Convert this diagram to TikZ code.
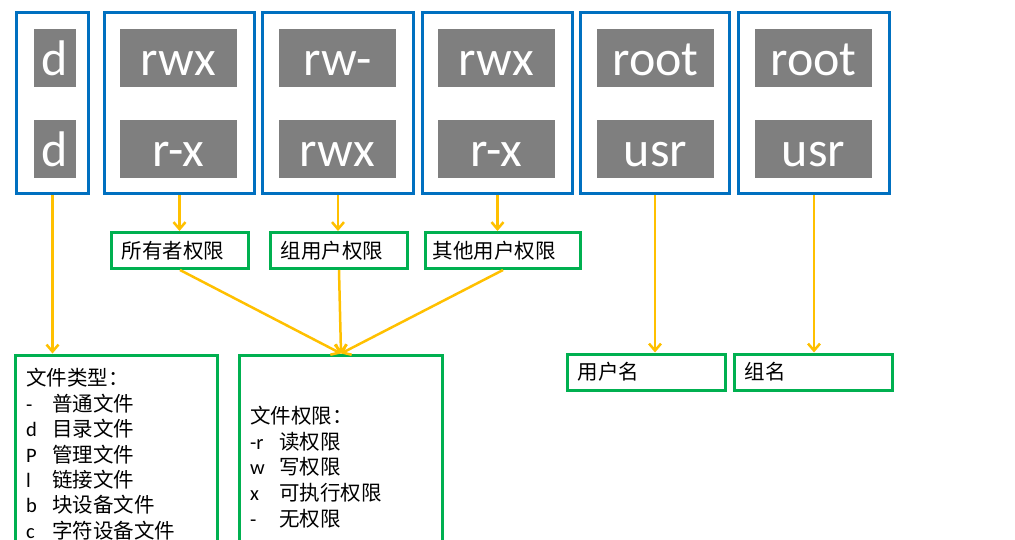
\documentclass[tikz,border=0pt]{standalone}
\usepackage{fontspec}
\setmainfont{Carlito}
\newfontfamily\cjk{Noto Sans CJK SC}
\newfontfamily\lat{Carlito}
\usetikzlibrary{arrows.meta}
\definecolor{blueC}{HTML}{0070C0}
\definecolor{greenC}{HTML}{00B050}
\definecolor{grayC}{HTML}{7F7F7F}
\definecolor{goldC}{HTML}{FFC000}
\begin{document}
\begin{tikzpicture}[x=1pt,y=-1pt,
  bbox/.style={draw=blueC, line width=3pt, inner sep=0pt, minimum height=181pt},
  cell/.style={fill=grayC, inner sep=0pt, minimum height=58pt, text=white,
    font=\lat\fontsize{50}{50}\selectfont, text height=35pt, text depth=0pt},
  gbox/.style={draw=greenC, line width=3pt, inner xsep=10pt, inner ysep=0pt,
    minimum height=36pt, align=left, font=\cjk\fontsize{20.5}{24}\selectfont},
  lbox/.style={draw=greenC, line width=3pt, inner sep=0pt, minimum height=200pt},
  ltxt/.style={anchor=west, inner sep=0pt, font=\cjk\fontsize{20.5}{24}\selectfont},
  arr/.style={draw=goldC, line width=2.5pt, -{Straight Barb[length=7pt,width=12pt]}}
]
\useasboundingbox (0,0) rectangle (1015,539);
% blue boxes
\node[bbox, minimum width=72pt]  (b1) at (52.5,103) {};
\node[bbox, minimum width=150pt] (b2) at (179.5,103) {};
\node[bbox, minimum width=151pt] (b3) at (338,103) {};
\node[bbox, minimum width=150pt] (b4) at (497.5,103) {};
\node[bbox, minimum width=149pt] (b5) at (655,103) {};
\node[bbox, minimum width=151pt] (b6) at (814,103) {};
% gray cells
\node[cell, minimum width=42pt]  (c1a) at (55,58) {d};
\node[cell, minimum width=42pt]  (c1b) at (55,149) {d};
\node[cell, minimum width=117pt] (c2a) at (178.5,58) {rwx};
\node[cell, minimum width=117pt] (c2b) at (178.5,149) {r-x};
\node[cell, minimum width=117pt] (c3a) at (337.5,58) {rw-};
\node[cell, minimum width=117pt] (c3b) at (337.5,149) {rwx};
\node[cell, minimum width=117pt] (c4a) at (496.5,58) {rwx};
\node[cell, minimum width=117pt] (c4b) at (496.5,149) {r-x};
\node[cell, minimum width=117pt] (c5a) at (655.5,58) {root};
\node[cell, minimum width=117pt] (c5b) at (655.5,149) {usr};
\node[cell, minimum width=117pt] (c6a) at (813.5,58) {root};
\node[cell, minimum width=117pt] (c6b) at (813.5,149) {usr};
% green row
\node[gbox, text width=117pt] (g1) at (180,250.5) {所有者权限};
\node[gbox, text width=117pt] (g2) at (339,250.5) {组用户权限};
\node[gbox, inner xsep=7pt, text width=141pt] (g3) at (503,250.5) {其他用户权限};
\node[gbox, text width=138pt] (r1) at (646.5,372) {用户名};
\node[gbox, text width=138pt] (r2) at (813.5,372) {组名};
% bottom list boxes
\node[lbox, minimum width=202pt, anchor=north] (l1) at (116.5,353.5) {};
\node[lbox, minimum width=203pt, anchor=north] (l2) at (341,353.5) {};
% list 1 text
\node[ltxt] (t10) at (26,378) {文件类型：};
\foreach \i/\a/\b in {1/-/普通文件,2/d/目录文件,3/P/管理文件,4/l/链接文件,5/b/块设备文件,6/c/字符设备文件}{
  \pgfmathsetmacro{\yy}{378+25.4*\i}
  \node[ltxt] (t1\i) at (26,\yy) {\makebox[26pt][l]{\lat\a}\b};
}
% list 2 text
\node[ltxt] (t20) at (250,416) {文件权限：};
\foreach \i/\a/\b in {1/-r/读权限,2/w/写权限,3/x/可执行权限,4/-/无权限}{
  \pgfmathsetmacro{\yy}{416+25.6*\i}
  \node[ltxt] (t2\i) at (250,\yy) {\makebox[29pt][l]{\lat\a}\b};
}
% arrows
\draw[arr] (b1.south) -- (b1.south |- l1.north);
\draw[arr] (b2.south) -- (b2.south |- g1.north);
\draw[arr] (b3.south) -- (b3.south |- g2.north);
\draw[arr] (b4.south) -- (b4.south |- g3.north);
\draw[arr] (b5.south) -- (b5.south |- r1.north);
\draw[arr] (b6.south) -- (b6.south |- r2.north);
\draw[arr] (g1.south) -- (l2.north);
\draw[arr] (g2.south) -- (l2.north);
\draw[arr] (g3.south) -- (l2.north);
\end{tikzpicture}
\end{document}
